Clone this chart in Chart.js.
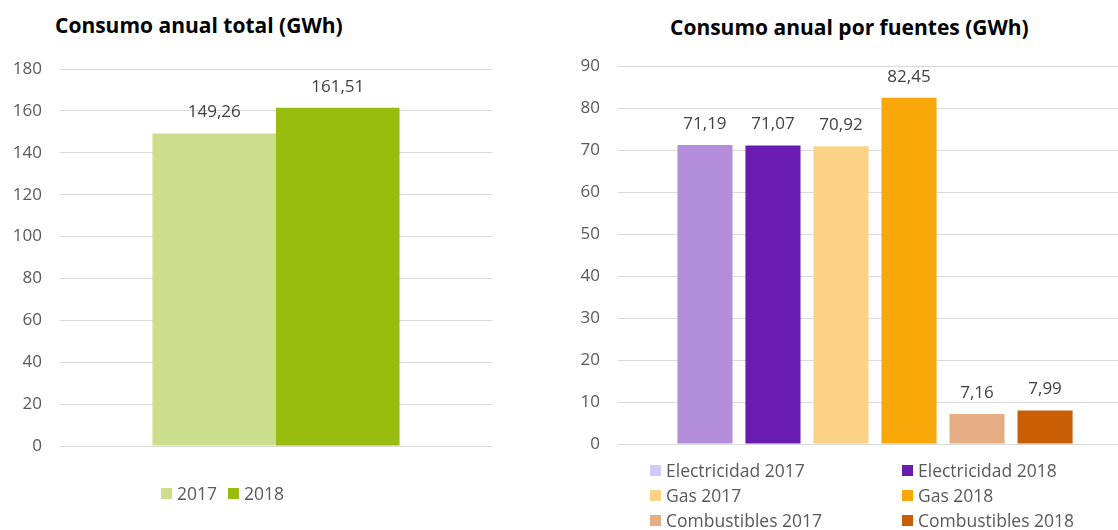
<!DOCTYPE html>
<html lang="es">

<head>
    <meta charset="UTF-8">
    <script src="https://cdn.jsdelivr.net/npm/chart.js"></script>
    <title>Consumo anual</title>
    <style>
        body { margin: 0; width: 1118px; height: 530px; overflow: hidden; background: #fff; font-family: "Open Sans", sans-serif; position: relative; }
        .titulo { position: absolute; font-weight: bold; font-size: 21px; color: #000; white-space: nowrap; line-height: 24px; }
        .caja { position: absolute; top: 0; height: 530px; }
        .leyenda { position: absolute; font-size: 17.5px; color: #595959; white-space: nowrap; line-height: 20px; }
        .item { position: absolute; display: flex; align-items: center; }
        .item i { display: inline-block; width: 11px; height: 11px; margin-right: 5px; }
    </style>
</head>

<body>
    <div class="titulo" style="left:55px; top:13px;">Consumo anual total (GWh)</div>
    <div class="titulo" style="left:670px; top:15px;">Consumo anual por fuentes (GWh)</div>

    <div class="caja" style="left:0; width:560px;"><canvas id="grafTotal"></canvas></div>
    <div class="caja" style="left:560px; width:572px;"><canvas id="grafFuentes"></canvas></div>

    <div class="leyenda" id="leyTotal"></div>
    <div class="leyenda" id="leyFuentes"></div>
</body>

</html>

<script>
    // datos
    var anios = ['2017', '2018']
    var totales = [149.26, 161.51]

    var fuentes = ['Electricidad 2017', 'Electricidad 2018', 'Gas 2017', 'Gas 2018', 'Combustibles 2017', 'Combustibles 2018']
    var valoresFuentes = [71.19, 71.07, 70.92, 82.45, 7.16, 7.99]

    var ticksTotal = [0, 20, 40, 60, 80, 100, 120, 140, 160, 180]
    var ticksFuentes = [0, 10, 20, 30, 40, 50, 60, 70, 80, 90]

    // colores
    var coloresTotal = ['#ccdd8b', '#98bd0e']
    var coloresFuentes = ['#b48ddb', '#6a1bb1', '#fcd386', '#f9a80a', '#e5ad84', '#c95f05']
    var coloresLeyendaFuentes = ['#ccccff', '#6a1bb1', '#fcd386', '#f9a80a', '#e5ad84', '#c95f05']

    function formato(v) {
        return v.toFixed(2).replace('.', ',')
    }

    // etiquetas encima de cada barra
    const etiquetas = {
        id: 'etiquetas',
        afterDatasetsDraw(chart) {
            const ctx = chart.ctx
            ctx.save()
            ctx.font = '17px "Open Sans"'
            ctx.fillStyle = '#404040'
            ctx.textAlign = 'center'
            ctx.textBaseline = 'middle'
            chart.data.datasets.forEach((ds, i) => {
                chart.getDatasetMeta(i).data.forEach((bar, j) => {
                    ctx.fillText(formato(ds.data[j]), bar.x, bar.y - 21)
                })
            })
            ctx.restore()
        }
    }

    Chart.defaults.font.family = '"Open Sans"'
    Chart.defaults.font.size = 17
    Chart.defaults.color = '#595959'

    function ejeY(ticks, anchoEje) {
        return {
            min: ticks[0],
            max: ticks[ticks.length - 1],
            afterBuildTicks: s => { s.ticks = ticks.map(v => ({ value: v })) },
            afterFit: s => { s.width = anchoEje },
            ticks: { padding: 18, color: '#595959', font: { size: 17 } },
            grid: { color: '#d9d9d9', lineWidth: 1, drawTicks: false },
            border: { display: false }
        }
    }

    function ejeX(alto) {
        return {
            ticks: { display: false },
            grid: { display: false },
            border: { display: false },
            afterFit: s => { s.height = alto }
        }
    }

    new Chart(document.getElementById('grafTotal'), {
        type: 'bar',
        data: {
            labels: [''],
            datasets: anios.map((a, i) => ({
                label: a,
                data: [totales[i]],
                backgroundColor: coloresTotal[i],
                categoryPercentage: 0.572,
                barPercentage: 1.0
            }))
        },
        options: {
            responsive: true,
            maintainAspectRatio: false,
            animation: false,
            layout: { padding: { top: 69, right: 68, bottom: 0, left: 0 } },
            plugins: { legend: { display: false }, tooltip: { enabled: false } },
            scales: { x: ejeX(84), y: ejeY(ticksTotal, 60) }
        },
        plugins: [etiquetas]
    })

    new Chart(document.getElementById('grafFuentes'), {
        type: 'bar',
        data: {
            labels: [''],
            datasets: fuentes.map((f, i) => ({
                label: f,
                data: [valoresFuentes[i]],
                backgroundColor: coloresFuentes[i],
                categoryPercentage: 0.794,
                barPercentage: 0.81
            }))
        },
        options: {
            responsive: true,
            maintainAspectRatio: false,
            animation: false,
            layout: { padding: { top: 66, right: 0, bottom: 0, left: 0 } },
            plugins: { legend: { display: false }, tooltip: { enabled: false } },
            scales: { x: ejeX(86), y: ejeY(ticksFuentes, 58) }
        },
        plugins: [etiquetas]
    })

    // leyendas
    function item(cont, texto, color, x, y) {
        var d = document.createElement('div')
        d.className = 'item'
        d.style.left = x + 'px'
        d.style.top = (y - 10) + 'px'
        d.innerHTML = '<i style="background:' + color + '"></i><span>' + texto + '</span>'
        cont.appendChild(d)
    }

    var leyTotal = document.getElementById('leyTotal')
    item(leyTotal, anios[0], coloresTotal[0], 161, 493)
    item(leyTotal, anios[1], coloresTotal[1], 228, 493)

    var leyFuentes = document.getElementById('leyFuentes')
    fuentes.forEach((f, i) => {
        var x = i % 2 == 0 ? 650 : 902
        var y = 470 + Math.floor(i / 2) * 25
        item(leyFuentes, f, coloresLeyendaFuentes[i], x, y)
    })
</script>
